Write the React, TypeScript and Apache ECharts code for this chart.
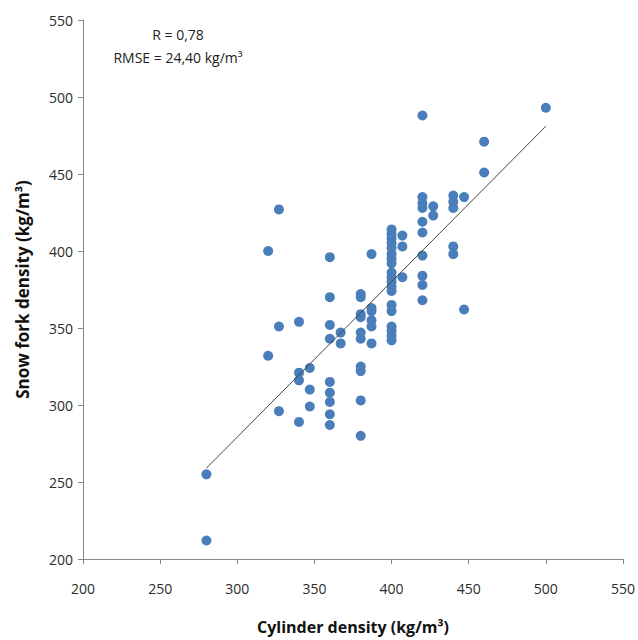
import React, { useEffect, useRef } from "react";
import * as echarts from "echarts";

// Cylinder density (x) and Snow fork density (y), kg/m3
const cylinderDensity: number[] = [
  280, 280,
  320, 320,
  327, 327, 327,
  340, 340, 340, 340,
  347, 347, 347,
  360, 360, 360, 360, 360, 360, 360, 360, 360,
  367, 367,
  380, 380, 380, 380, 380, 380, 380, 380, 380, 380,
  387, 387, 387, 387, 387, 387,
  400, 400, 400, 400, 400, 400, 400, 400, 400, 400, 400, 400, 400, 400, 400, 400, 400, 400, 400,
  407, 407, 407,
  420, 420, 420, 420, 420, 420, 420, 420, 420, 420,
  427, 427,
  440, 440, 440, 440, 440,
  447, 447,
  460, 460,
  500,
];
const snowForkDensity: number[] = [
  255, 212,
  400, 332,
  427, 351, 296,
  354, 321, 316, 289,
  324, 310, 299,
  396, 370, 352, 343, 315, 308, 302, 294, 287,
  347, 340,
  372, 370, 359, 357, 347, 343, 325, 322, 303, 280,
  398, 363, 361, 355, 351, 340,
  414, 411, 408, 405, 402, 398, 395, 392, 386, 383, 380, 377, 374, 365, 361, 351, 348, 345, 342,
  410, 403, 383,
  488, 435, 431, 428, 419, 412, 397, 384, 378, 368,
  429, 423,
  436, 432, 428, 403, 398,
  435, 362,
  471, 451,
  493,
];
// Regression line end points
const trendX: number[] = [280, 500];
const trendY: number[] = [259, 481];

const statLines: string[] = ["R = 0,78", "RMSE = 24,40 kg/m³"];
const xTitle = "Cylinder density (kg/m³)";
const yTitle = "Snow fork density (kg/m³)";

export default function App() {
  const ref = useRef<HTMLDivElement>(null);
  useEffect(() => {
    if (!ref.current) return;
    const chart = echarts.init(ref.current, undefined, { renderer: "svg" });
    const axisCommon = {
      type: "value" as const,
      min: 200,
      max: 550,
      interval: 50,
      splitLine: { show: false },
      axisLine: { show: true, lineStyle: { color: "#868686", width: 1 } },
      axisTick: { show: true, inside: false, length: 5, lineStyle: { color: "#868686" } },
      axisLabel: { color: "#2b2b2b", fontSize: 14, fontFamily: "Open Sans" },
      nameLocation: "middle" as const,
      nameTextStyle: { color: "#111", fontWeight: "bold" as const, fontFamily: "Open Sans" },
    };
    chart.setOption({
      animation: false,
      backgroundColor: "#ffffff",
      grid: { left: 83, right: 12, top: 20, bottom: 80, containLabel: false },
      xAxis: {
        ...axisCommon,
        name: xTitle,
        nameGap: 60,
        nameTextStyle: { ...axisCommon.nameTextStyle, fontSize: 16 },
        axisLabel: { ...axisCommon.axisLabel, margin: 22 },
      },
      yAxis: {
        ...axisCommon,
        name: yTitle,
        nameGap: 52,
        nameTextStyle: { ...axisCommon.nameTextStyle, fontSize: 17 },
        axisLabel: { ...axisCommon.axisLabel, margin: 10 },
      },
      graphic: statLines.map((t, i) => ({
        type: "text",
        x: 178,
        y: 34 + i * 23,
        style: {
          text: t,
          fill: "#222",
          fontSize: 14,
          fontFamily: "Open Sans",
          textAlign: "center",
          textVerticalAlign: "middle",
        },
      })),
      series: [
        {
          type: "scatter",
          data: cylinderDensity.map((x, i) => [x, snowForkDensity[i]]),
          symbol: "circle",
          symbolSize: 10,
          itemStyle: { color: "#4A7EBB", opacity: 1 },
          z: 2,
        },
        {
          type: "line",
          data: trendX.map((x, i) => [x, trendY[i]]),
          symbol: "none",
          lineStyle: { color: "#444", width: 1 },
          z: 3,
        },
      ],
    });
    return () => chart.dispose();
  }, []);
  return (
    <div
      ref={ref}
      style={{ position: "absolute", left: 0, top: 0, width: 638, height: 640 }}
    />
  );
}
